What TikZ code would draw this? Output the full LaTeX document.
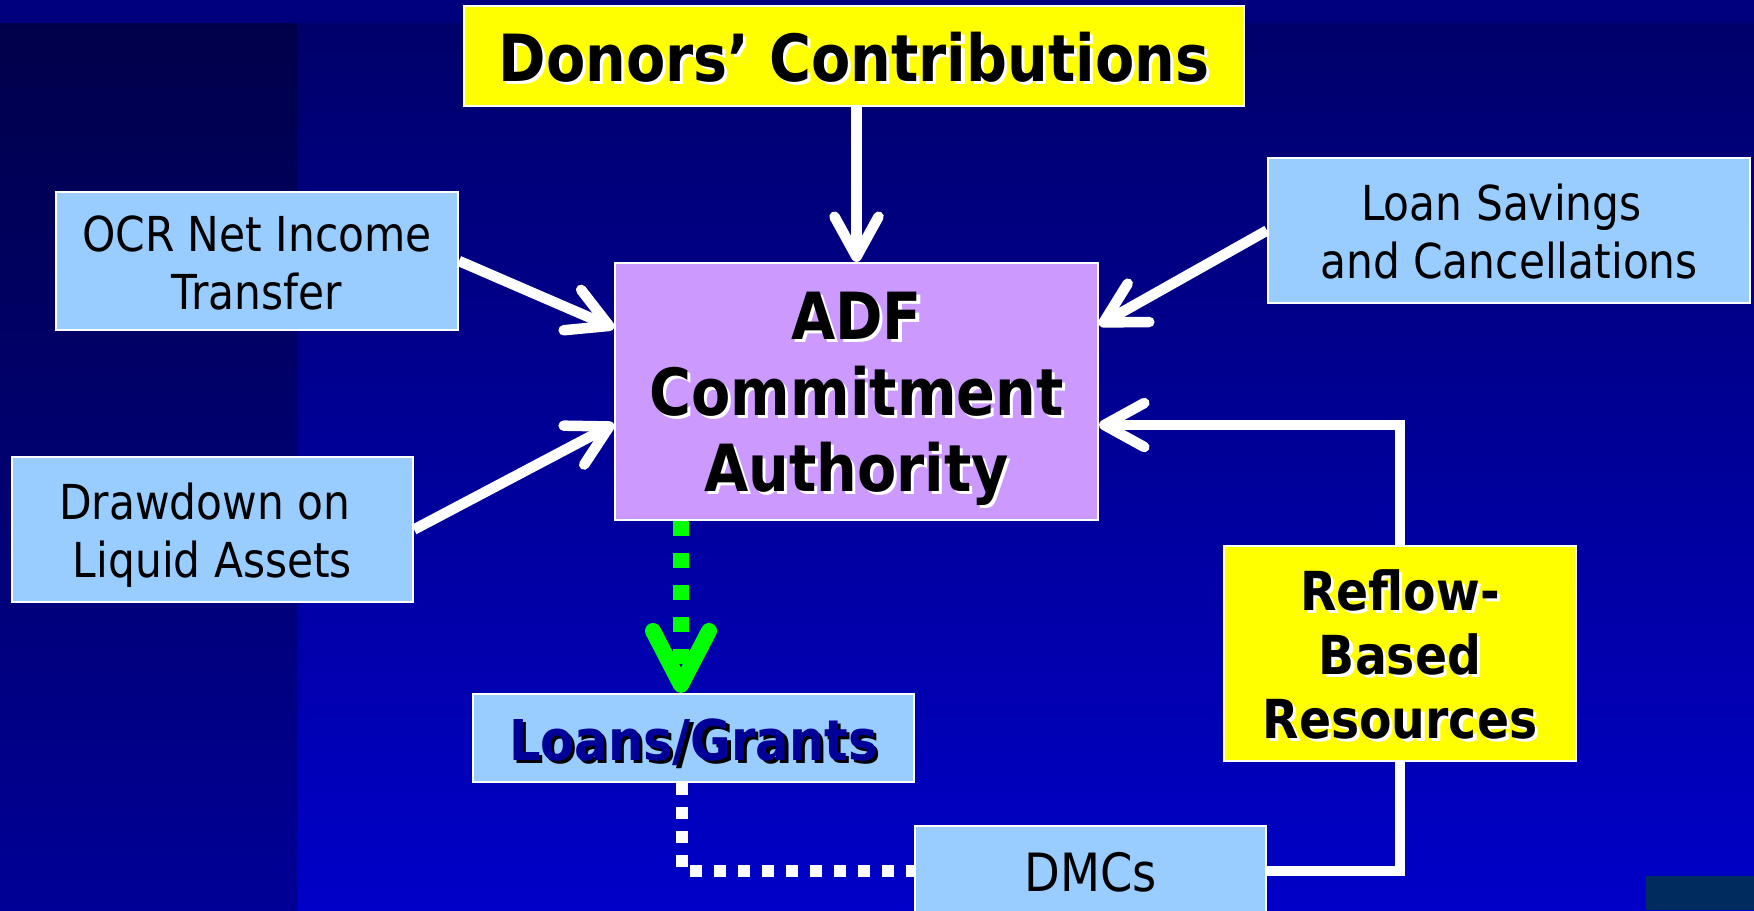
\documentclass[tikz,border=0pt]{standalone}
\usepackage{fontspec}
\setmainfont[FakeStretch=0.88]{DejaVu Sans}
\usepackage{tikz}
\usetikzlibrary{arrows.meta, positioning}
\definecolor{paleblue}{HTML}{99CCFF}
\definecolor{lilac}{HTML}{CC99FF}
\definecolor{hotyellow}{HTML}{FFFF00}
\definecolor{grantgreen}{HTML}{00FF00}
\definecolor{navytext}{HTML}{000099}
\definecolor{bgtop}{HTML}{000068}
\definecolor{bgbottom}{HTML}{0000C8}
\definecolor{striptop}{HTML}{00004A}
\definecolor{stripbottom}{HTML}{000096}
\definecolor{bandblue}{HTML}{00007E}
\definecolor{cornerteal}{HTML}{002B5E}
\newcommand{\embossed}[1]{\makebox[0pt][l]{\kern0.9pt\raisebox{-0.9pt}{\color{white}#1}}#1}
\newcommand{\sunken}[1]{\makebox[0pt][l]{\kern0.9pt\raisebox{-0.9pt}{\color{black}#1}}\textcolor{navytext}{#1}}
\newcommand{\linetop}{\rule{0pt}{1em}}
\newcommand{\linebottom}{\rule[-0.21em]{0pt}{0.21em}}

\begin{document}
\begin{tikzpicture}[x=0.1mm, y=-0.1mm,
  boxbase/.style={draw=white, line width=0.6pt, inner sep=0pt, align=center, text=black},
  sourcebox/.style={boxbase, fill=paleblue, font=\fontsize{13.7}{16.5}\selectfont},
  hotbox/.style={boxbase, fill=hotyellow, font=\bfseries\fontsize{18.5}{21.6}\selectfont},
  adfbox/.style={boxbase, fill=lilac, font=\bfseries\fontsize{18.5}{21.6}\selectfont},
  flow/.style={draw=white, line width=1.05mm},
  inflow/.style={flow, -{Straight Barb[length=4mm, width=4.4mm, round]}},
  grantflow/.style={draw=grantgreen, line width=1.6mm, dash pattern=on 1.5mm off 1.7mm, -{Straight Barb[length=5.4mm, width=5.6mm, round]}},
  dmcflow/.style={draw=white, line width=1.2mm, dash pattern=on 1.2mm off 1.2mm}
]
  \useasboundingbox (0,0) rectangle (1754,910);
  \shade[top color=bgtop, bottom color=bgbottom] (0,0) rectangle (1754,910);
  \shade[top color=striptop, bottom color=stripbottom] (0,23) rectangle (297,910);
  \fill[bandblue] (0,0) rectangle (1754,23);
  \fill[cornerteal] (1646,876) rectangle (1754,910);

  \node[hotbox, minimum width=78mm, minimum height=10mm] (donors) at (854,56) {\linetop\embossed{Donors’ Contributions}\linebottom};
  \node[adfbox, minimum width=48.3mm, minimum height=25.7mm] (adf) at (856.5,391.5) {\linetop\embossed{ADF}\\\embossed{Commitment}\\\embossed{Authority}\linebottom};
  \node[sourcebox, minimum width=40.2mm, minimum height=13.8mm] (ocr) at (257,261) {\linetop OCR Net Income\\Transfer\linebottom};
  \node[sourcebox, minimum width=48.2mm, minimum height=14.5mm] (savings) at (1509,230.5) {\linetop Loan Savings\kern0.32em\\and Cancellations\linebottom};
  \node[sourcebox, minimum width=40.1mm, minimum height=14.5mm] (drawdown) at (212.5,529.5) {\linetop Drawdown on\kern0.32em\\Liquid Assets\linebottom};
  \node[sourcebox, minimum width=44.1mm, minimum height=8.8mm, font=\bfseries\fontsize{16}{19}\selectfont] (loans) at (693.5,738) {\linetop\sunken{Loans/Grants}\linebottom};
  \node[hotbox, minimum width=35.2mm, minimum height=21.5mm, font=\bfseries\fontsize{15.3}{18.2}\selectfont] (reflow) at (1400,653.5) {\linetop\embossed{Reflow-}\\\embossed{Based}\\\embossed{Resources}\linebottom};
  \node[sourcebox, minimum width=35.1mm, minimum height=9mm, font=\fontsize{15}{18}\selectfont] (dmcs) at (1090.5,871) {\linetop DMCs\linebottom};

  \draw[inflow] (adf.north |- donors.south) -- (adf.north);
  \draw[inflow] (ocr.east) -- ([yshift=6.35mm]adf.west);
  \draw[inflow] (drawdown.east) -- ([yshift=-3.25mm]adf.west);
  \draw[inflow] (savings.west) -- ([yshift=6.65mm]adf.east);
  \draw[inflow] (reflow.north) |- ([yshift=-3.35mm]adf.east);
  \draw[flow] (reflow.south) |- (dmcs.east);
  \draw[grantflow] ([xshift=-1.25mm]loans.north |- adf.south) -- ([xshift=-1.25mm]loans.north);
  \draw[dmcflow] ([xshift=-1.15mm]loans.south) |- (dmcs.west);
\end{tikzpicture}
\end{document}
